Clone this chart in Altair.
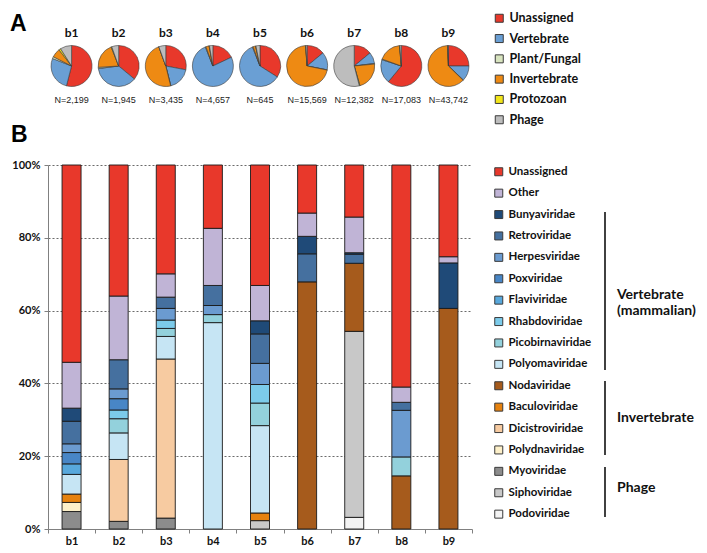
import altair as alt
import pandas as pd

# ---------------- data ----------------
samples = ["b1", "b2", "b3", "b4", "b5", "b6", "b7", "b8", "b9"]
read_counts = ["N=2,199", "N=1,945", "N=3,435", "N=4,657", "N=645",
               "N=15,569", "N=12,382", "N=17,083", "N=43,742"]

pie_categories = ["Unassigned", "Vertebrate", "Plant/Fungal", "Invertebrate", "Protozoan", "Phage"]
pie_colors = ["#e8382b", "#6a9fd4", "#d8e4bf", "#ee8a13", "#f2e51a", "#bdbdbd"]

# percent of reads per category (order as pie_categories)
pie_b1 = [54, 27, 1.5, 7, 1.5, 9]
pie_b2 = [36, 37, 1, 20, 0.5, 5.5]
pie_b3 = [28, 18, 0.2, 48.3, 0, 5.5]
pie_b4 = [18, 76, 0.5, 2.5, 0.3, 2.7]
pie_b5 = [34, 60, 0.5, 2, 0.3, 3.2]
pie_b6 = [14, 14, 0.2, 70.5, 0.3, 1]
pie_b7 = [14, 9, 0.5, 22, 0.5, 54]
pie_b8 = [61, 19, 0.5, 18, 0.3, 1.2]
pie_b9 = [25, 12, 0.3, 62, 0.2, 0.5]
pie_values = [pie_b1, pie_b2, pie_b3, pie_b4, pie_b5, pie_b6, pie_b7, pie_b8, pie_b9]

families = ["Unassigned", "Other", "Bunyaviridae", "Retroviridae", "Herpesviridae",
            "Poxviridae", "Flaviviridae", "Rhabdoviridae", "Picobirnaviridae",
            "Polyomaviridae", "Nodaviridae", "Baculoviridae", "Dicistroviridae",
            "Polydnaviridae", "Myoviridae", "Siphoviridae", "Podoviridae"]
family_colors = ["#e8382b", "#c0b4d6", "#1f4a78", "#45709f", "#6b9bd0",
                 "#4886c6", "#58a8dc", "#7ccbea", "#93d1dc",
                 "#c6e5f4", "#a65b1c", "#e6820f", "#f7cba1",
                 "#fdf0c9", "#8c8c8c", "#c8c8c8", "#f3f3f3"]

# percent per family (order as families)
bar_b1 = [54.2, 12.6, 3.6, 6.2, 2.4, 3.1, 2.9, 0, 0, 5.4, 0, 2.3, 0, 2.5, 4.8, 0, 0]
bar_b2 = [36.0, 17.5, 0, 8.0, 2.7, 3.1, 0, 2.4, 3.9, 7.3, 0, 0, 17.0, 0, 2.1, 0, 0]
bar_b3 = [29.9, 6.4, 0, 3.1, 3.2, 0, 0, 2.3, 2.2, 6.2, 0, 0, 43.7, 0, 3.0, 0, 0]
bar_b4 = [17.4, 15.7, 0, 5.5, 2.5, 0, 0, 0, 2.2, 56.7, 0, 0, 0, 0, 0, 0, 0]
bar_b5 = [33.1, 9.7, 3.6, 8.1, 5.8, 0, 0, 5.1, 6.2, 24.0, 0, 2.1, 0, 0, 0, 2.3, 0]
bar_b6 = [13.2, 6.4, 4.8, 7.7, 0, 0, 0, 0, 0, 0, 67.9, 0, 0, 0, 0, 0, 0]
bar_b7 = [14.3, 9.8, 0.4, 2.5, 0, 0, 0, 0, 0, 0, 18.7, 0, 0, 0, 0, 51.1, 3.2]
bar_b8 = [61.0, 4.2, 0, 2.2, 12.8, 0, 0, 0, 5.2, 0, 14.6, 0, 0, 0, 0, 0, 0]
bar_b9 = [25.2, 1.7, 12.5, 0, 0, 0, 0, 0, 0, 0, 60.6, 0, 0, 0, 0, 0, 0]
bar_values = [bar_b1, bar_b2, bar_b3, bar_b4, bar_b5, bar_b6, bar_b7, bar_b8, bar_b9]

# ---------------- tables ----------------
pie_rows = []
for s, vals in zip(samples, pie_values):
    total = sum(vals)
    acc = 0.0
    for c, v in zip(pie_categories, vals):
        p = v / total * 100
        pie_rows.append({"sample": s, "cat": c, "t0": acc, "t1": acc + p})
        acc += p
pie_df = pd.DataFrame(pie_rows)

bar_rows = []
for s, vals in zip(samples, bar_values):
    acc = 0.0
    for f, v in reversed(list(zip(families, vals))):
        if v > 0:
            bar_rows.append({"sample": s, "family": f, "y0": acc, "y1": acc + v})
            acc += v
bar_df = pd.DataFrame(bar_rows)

lab_df = pd.DataFrame({"sample": samples, "n": read_counts})
one = pd.DataFrame({"k": [0]})

FONT = "Lato"

x_enc = alt.X("sample:N", sort=samples,
              scale=alt.Scale(paddingInner=0, paddingOuter=0),
              axis=alt.Axis(title=None, labelAngle=0, labelFont=FONT, labelFontWeight="bold",
                            labelFontSize=11, labelColor="#111", domainColor="#808080",
                            tickColor="#808080", tickBand="extent", tickSize=4,
                            labelPadding=2, grid=False))

bars = alt.Chart(bar_df).mark_bar(size=19, stroke="#1a1a1a", strokeWidth=0.9).encode(
    x=x_enc,
    y=alt.Y("y0:Q", scale=alt.Scale(domain=[0, 100], nice=False),
            axis=alt.Axis(title=None, values=[0, 20, 40, 60, 80, 100],
                          labelExpr="datum.value + '%'", labelFont=FONT,
                          labelFontWeight="bold", labelFontSize=11, labelColor="#111",
                          grid=True, gridDash=[2, 2], gridColor="#6b6b6b", gridWidth=1,
                          domainColor="#808080", tickColor="#808080", tickSize=4,
                          labelPadding=4)),
    y2="y1:Q",
    color=alt.Color("family:N", scale=alt.Scale(domain=families, range=family_colors),
                    legend=alt.Legend(title=None, orient="none", legendX=445, legendY=1,
                                      symbolType="square", symbolSize=64,
                                      symbolStrokeColor="#3a3a3a", symbolStrokeWidth=1,
                                      labelFont=FONT, labelFontWeight="bold",
                                      labelFontSize=11.5, labelColor="#111",
                                      rowPadding=8.4, labelOffset=4, padding=0)),
)

pies = alt.Chart(pie_df).mark_arc(outerRadius=20.5, stroke="#3a3a3a", strokeWidth=0.6).encode(
    x=x_enc,
    y=alt.value(-99),
    theta=alt.Theta("t0:Q", scale=alt.Scale(domain=[0, 100], range=[0, 6.283185])),
    theta2="t1:Q",
    color=alt.Color("cat:N", scale=alt.Scale(domain=pie_categories, range=pie_colors),
                    legend=alt.Legend(title=None, orient="none", legendX=445, legendY=-153,
                                      symbolType="square", symbolSize=64,
                                      symbolStrokeColor="#3a3a3a", symbolStrokeWidth=1,
                                      labelFont=FONT, labelFontWeight="bold",
                                      labelFontSize=12.5, labelColor="#111",
                                      rowPadding=7.3, labelOffset=4, padding=0)),
)

pie_titles = alt.Chart(lab_df).mark_text(font=FONT, fontWeight="bold", fontSize=12,
                                         color="#111").encode(
    x=x_enc, y=alt.value(-132), text="sample:N")

n_labels = alt.Chart(lab_df).mark_text(font="Liberation Sans", fontSize=9,
                                       color="#222").encode(
    x=x_enc, y=alt.value(-65), text="n:N")

letter_a = alt.Chart(one).mark_text(text="A", font="Liberation Sans", fontWeight="bold",
                                    fontSize=23, align="left", baseline="middle",
                                    color="#000").encode(x=alt.value(-38), y=alt.value(-141))
letter_b = alt.Chart(one).mark_text(text="B", font="Liberation Sans", fontWeight="bold",
                                    fontSize=23, align="left", baseline="middle",
                                    color="#000").encode(x=alt.value(-37), y=alt.value(-30))

rule_kw = dict(color="#111", strokeWidth=1.6)
br_vert = alt.Chart(one).mark_rule(**rule_kw).encode(
    x=alt.value(557), y=alt.value(47), y2=alt.value(205))
br_inv = alt.Chart(one).mark_rule(**rule_kw).encode(
    x=alt.value(557), y=alt.value(216), y2=alt.value(290))
br_phage = alt.Chart(one).mark_rule(**rule_kw).encode(
    x=alt.value(557), y=alt.value(302), y2=alt.value(352))

grp_kw = dict(font=FONT, fontWeight="bold", fontSize=14, align="left",
              baseline="middle", color="#111")
lab_vert1 = alt.Chart(one).mark_text(text="Vertebrate", **grp_kw).encode(
    x=alt.value(569), y=alt.value(130))
lab_vert2 = alt.Chart(one).mark_text(text="(mammalian)", **grp_kw).encode(
    x=alt.value(569), y=alt.value(146))
lab_inv = alt.Chart(one).mark_text(text="Invertebrate", **grp_kw).encode(
    x=alt.value(569), y=alt.value(253))
lab_phage = alt.Chart(one).mark_text(text="Phage", **grp_kw).encode(
    x=alt.value(569), y=alt.value(323))

chart = alt.layer(
    bars, pies, pie_titles, n_labels, letter_a, letter_b,
    br_vert, br_inv, br_phage, lab_vert1, lab_vert2, lab_inv, lab_phage
).resolve_scale(color="independent").properties(
    width=424, height=364,
    autosize=alt.AutoSizeParams(type="none"),
    padding={"left": 40, "top": 157, "right": 227, "bottom": 16},
    background="white",
).configure_view(stroke=None)

chart.save("out.html", embed_options={"renderer": "svg", "actions": False})
